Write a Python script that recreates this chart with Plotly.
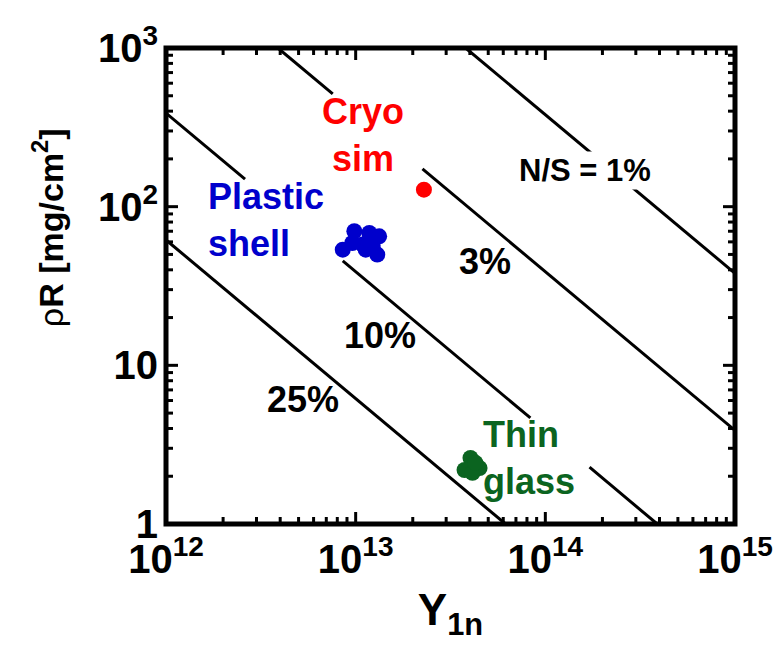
import plotly.graph_objects as go

# ---------------- data ----------------
# N/S contour lines: visible segments, endpoints (Y1n, rhoR)
ns1_x = [3.80e13, 1.0e15]
ns1_y = [1000, 38.0]
ns3_x = [3.89e12, 7.57e12, None, 2.25e13, 1.0e15]
ns3_y = [1000, 514, None, 173, 3.89]
ns10_x = [1.0e12, 2.61e12, None, 8.55e12, 8.34e13, None, 1.71e14, 3.89e14]
ns10_y = [389, 149, None, 45.5, 4.66, None, 2.28, 1.0]
ns25_x = [1.0e12, 6.17e13]
ns25_y = [61.7, 1.0]

cryo_x = [2.29e13]
cryo_y = [128]
plastic_x = [8.55e12, 9.84e12, 1.18e13, 1.33e13, 1.30e13, 1.09e13, 1.13e13, 1.23e13, 9.6e12, 1.18e13]
plastic_y = [53.6, 70, 68.3, 65, 49.9, 57.7, 53.6, 56.5, 59, 61.7]
glass_x = [4.03e13, 3.75e13, 4.5e13, 4.13e13, 4.28e13]
glass_y = [2.61, 2.19, 2.25, 2.10, 2.43]

x_tickvals = [1e12, 1e13, 1e14, 1e15]
x_ticktext = ["10<sup>12</sup>", "10<sup>13</sup>", "10<sup>14</sup>", "10<sup>15</sup>"]
y_tickvals = [1, 10, 100, 1000]
y_ticktext = ["1", "10", "10<sup>2</sup>", "10<sup>3</sup>"]
x_minor = [m * 10 ** e for e in range(12, 15) for m in range(2, 10)]
y_minor = [m * 10 ** e for e in range(0, 3) for m in range(2, 10)]

# ---------------- styles ----------------
FONT = "Liberation Sans, Arial, sans-serif"
BLUE = "#0000CC"
RED = "#FF0000"
GREEN = "#0B6420"
MAJOR_LEN, MINOR_LEN, TICK_W = 12, 7, 3

fig = go.Figure()
for xs, ys in [(ns1_x, ns1_y), (ns3_x, ns3_y), (ns10_x, ns10_y), (ns25_x, ns25_y)]:
    fig.add_trace(go.Scatter(x=xs, y=ys, mode="lines", connectgaps=False,
                             line=dict(color="black", width=3), showlegend=False, hoverinfo="skip"))

fig.add_trace(go.Scatter(x=plastic_x, y=plastic_y, mode="markers",
                         marker=dict(color=BLUE, size=16, line=dict(width=0)), showlegend=False))
fig.add_trace(go.Scatter(x=cryo_x, y=cryo_y, mode="markers",
                         marker=dict(color=RED, size=16, line=dict(width=0)), showlegend=False))
fig.add_trace(go.Scatter(x=glass_x, y=glass_y, mode="markers",
                         marker=dict(color=GREEN, size=16, line=dict(width=0)), showlegend=False))

axis_common = dict(type="log", showgrid=False, zeroline=False, showline=False, ticks="",
                   tickmode="array",
                   tickfont=dict(family=FONT, size=40, color="black", weight="bold"))

fig.update_layout(
    xaxis=dict(**axis_common, range=[12, 15], tickvals=x_tickvals, ticktext=x_ticktext,
               ticklabelstandoff=8,
               title=dict(text="Y<sub>1n</sub>", font=dict(family=FONT, size=44, color="black", weight="bold"),
                          standoff=14)),
    yaxis=dict(**axis_common, range=[0, 3], tickvals=y_tickvals, ticktext=y_ticktext,
               ticklabelstandoff=7),
)

# inward ticks on all four sides (pixel-length shapes anchored on the frame)
tick_line = dict(color="black", width=TICK_W)
for vals, ln in [(x_tickvals, MAJOR_LEN), (x_minor, MINOR_LEN)]:
    for v in vals:
        fig.add_shape(type="line", xref="x", yref="paper", ysizemode="pixel", yanchor=0,
                      x0=v, x1=v, y0=0, y1=ln, line=tick_line, layer="above")
        fig.add_shape(type="line", xref="x", yref="paper", ysizemode="pixel", yanchor=1,
                      x0=v, x1=v, y0=0, y1=-ln, line=tick_line, layer="above")
for vals, ln in [(y_tickvals, MAJOR_LEN), (y_minor, MINOR_LEN)]:
    for v in vals:
        fig.add_shape(type="line", xref="paper", yref="y", xsizemode="pixel", xanchor=0,
                      y0=v, y1=v, x0=0, x1=ln, line=tick_line, layer="above")
        fig.add_shape(type="line", xref="paper", yref="y", xsizemode="pixel", xanchor=1,
                      y0=v, y1=v, x0=0, x1=-ln, line=tick_line, layer="above")

# thick frame
fig.add_shape(type="rect", xref="paper", yref="paper", x0=0, x1=1, y0=0, y1=1,
              line=dict(color="black", width=5), fillcolor="rgba(0,0,0,0)", layer="above")

# y-axis title (positioned off-centre as in the reference)
fig.add_annotation(text="<span style='font-weight:normal'>ρ</span>R [mg/cm<sup>2</sup>]",
                   xref="paper", yref="paper", x=-0.207, y=0.622, textangle=-90,
                   showarrow=False, xanchor="center", yanchor="middle",
                   font=dict(family=FONT, size=34, color="black", weight="bold"))

def ann(text, x, y, color, size=36, xanchor="center", align="center", bg=None):
    d = dict(text=text, x=x, y=y, xref="x", yref="y", showarrow=False, xanchor=xanchor,
             yanchor="middle", align=align,
             font=dict(family=FONT, size=size, color=color, weight="bold"))
    if bg:
        d["bgcolor"] = bg
    fig.add_annotation(**d)

ann("Cryo<br>sim", 13.04, 2.452, RED)
ann("Plastic<br>shell", 12.21, 1.916, BLUE, xanchor="left", align="left")
ann("Thin<br>glass", 13.663, 0.417, GREEN, xanchor="left", align="left")
ann("N/S = 1%", 14.211, 2.231, "black", size=31, bg="white")
ann("3%", 13.68, 1.652, "black")
ann("10%", 13.13, 1.185, "black")
ann("25%", 12.72, 0.782, "black")

fig.update_layout(width=781, height=663, margin=dict(l=158, r=54, t=40, b=147),
                  plot_bgcolor="white", paper_bgcolor="white", showlegend=False)

fig.write_html("out.html")
